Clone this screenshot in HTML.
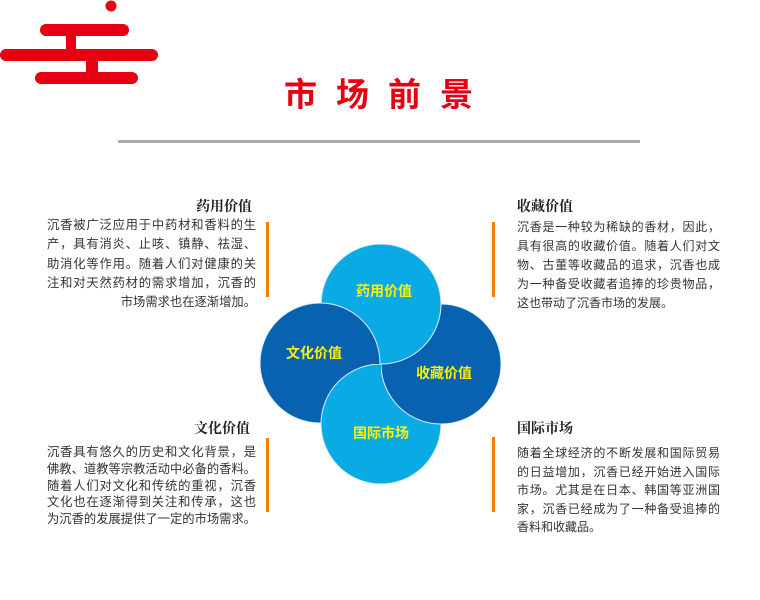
<!DOCTYPE html>
<html><head><meta charset="utf-8"><style>
body{margin:0;width:760px;height:600px;background:#fff;position:relative;overflow:hidden;font-family:"Liberation Sans","Noto Sans CJK SC",sans-serif;}
.a{position:absolute;white-space:nowrap;}
.t{font-family:"Liberation Serif","Noto Serif CJK SC",serif;font-weight:bold;font-size:14px;color:#222;}
.l{font-size:12.3px;color:#333;width:209px;}
.l.n{width:203px;font-size:12px;}
.l div{text-align:justify;text-align-last:justify;white-space:nowrap;}
.l div.e{text-align-last:auto;}
.l div.r{text-align-last:right;}
.bar{position:absolute;width:3px;background:#f08300;}
</style></head><body>
<svg class="a" style="left:0;top:0" width="170" height="90">
<g fill="#e60012">
<circle cx="111" cy="6" r="5.5"/>
<rect x="40" y="24" width="89" height="12" rx="6"/>
<rect x="0" y="49" width="158" height="12" rx="6"/>
<rect x="35" y="72" width="103" height="12" rx="6"/>
<rect x="66" y="34" width="10" height="17"/>
<rect x="86" y="59" width="12" height="15"/>
</g></svg>
<div class="a" style="left:284px;top:72px;font-size:33px;font-weight:bold;color:#e60012;letter-spacing:19px;font-family:'Noto Sans CJK SC',sans-serif;line-height:40px">市场前景</div>
<div class="a" style="left:118px;top:140px;width:522px;height:3px;background:#aaa"></div>

<svg class="a" style="left:0;top:0" width="760" height="600">
<defs><clipPath id="c"><rect x="250" y="364" width="131" height="70"/></clipPath></defs>
<g stroke="#dfefff" stroke-width="1">
<circle cx="381" cy="424" r="60" fill="#0aaae4"/>
<circle cx="441" cy="364" r="60" fill="#0862b0"/>
<circle cx="381" cy="304" r="60" fill="#0aaae4"/>
<circle cx="320" cy="363" r="60" fill="#0862b0"/>
<circle cx="381" cy="424" r="60" fill="#0aaae4" clip-path="url(#c)"/>
</g>
<g fill="#fff100" font-weight="bold" font-size="14" font-family="Liberation Sans,Noto Sans CJK SC,sans-serif" text-anchor="middle">
<text x="384" y="296">药用价值</text>
<text x="314" y="358">文化价值</text>
<text x="444" y="378">收藏价值</text>
<text x="381" y="438">国际市场</text>
</g></svg>

<div class="a t" style="right:508px;top:196px">药用价值</div>
<div class="bar" style="left:266px;top:222px;height:75px"></div>
<div class="a l" style="left:47px;top:216px;line-height:19.3px">
<div>沉香被广泛应用于中药材和香料的生</div><div>产，具有消炎、止咳、镇静、祛湿、</div><div>助消化等作用。随着人们对健康的关</div><div>注和对天然药材的需求增加，沉香的</div><div class="r">市场需求也在逐渐增加。</div></div>

<div class="a t" style="left:517px;top:196px">收藏价值</div>
<div class="bar" style="left:492px;top:222px;height:75px"></div>
<div class="a l n" style="left:517px;top:218px;line-height:19px">
<div>沉香是一种较为稀缺的香材，因此，</div><div>具有很高的收藏价值。随着人们对文</div><div>物、古董等收藏品的追求，沉香也成</div><div>为一种备受收藏者追捧的珍贵物品，</div><div class="e">这也带动了沉香市场的发展。</div></div>

<div class="a t" style="right:510px;top:418px">文化价值</div>
<div class="bar" style="left:266px;top:438px;height:74px"></div>
<div class="a l" style="left:47px;top:444px;line-height:16.8px">
<div>沉香具有悠久的历史和文化背景，是</div><div>佛教、道教等宗教活动中必备的香料。</div><div>随着人们对文化和传统的重视，沉香</div><div>文化也在逐渐得到关注和传承，这也</div><div>为沉香的发展提供了一定的市场需求。</div></div>

<div class="a t" style="left:517px;top:418px">国际市场</div>
<div class="bar" style="left:492px;top:437px;height:75px"></div>
<div class="a l n" style="left:517px;top:444px;line-height:18.5px">
<div>随着全球经济的不断发展和国际贸易</div><div>的日益增加，沉香已经开始进入国际</div><div>市场。尤其是在日本、韩国等亚洲国</div><div>家，沉香已经成为了一种备受追捧的</div><div class="e">香料和收藏品。</div></div>
</body></html>
